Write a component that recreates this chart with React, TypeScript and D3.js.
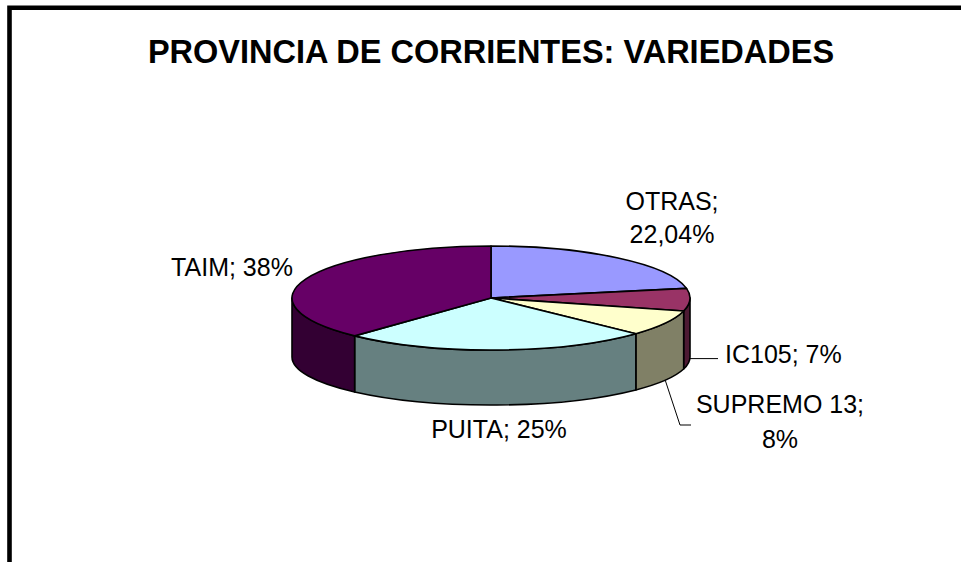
import React from "react";
import * as d3 from "d3";

const title = "PROVINCIA DE CORRIENTES: VARIEDADES";
const categories = ["OTRAS", "IC105", "SUPREMO 13", "PUITA", "TAIM"];
const values = [22.04, 7, 8, 25, 38];
const valueLabels = ["22,04%", "7%", "8%", "25%", "38%"];
const topColors = ["#9999FF", "#993366", "#FFFFCC", "#CCFFFF", "#660066"];

const W = 961;
const H = 562;
const cx = 491;
const cy = 298;
const rx = 199;
const ry = 52;
const cyb = 357;
const ryb = 48;
const FONT = "'Liberation Sans', Arial, Helvetica, sans-serif";

function sideColor(c: string) {
  const r = d3.rgb(c);
  return d3.rgb(r.r * 0.5, r.g * 0.5, r.b * 0.5).formatHex();
}

export default function App() {
  const arcs = d3.pie<number>().sort(null).value((d) => d)(values);
  const topPt = (a: number) => [cx + rx * Math.sin(a), cy - ry * Math.cos(a)];
  const botPt = (a: number) => [cx + rx * Math.sin(a), cyb - ryb * Math.cos(a)];
  const f = (n: number) => n.toFixed(2);

  const topPaths = arcs.map((a) => {
    const p0 = topPt(a.startAngle);
    const p1 = topPt(a.endAngle);
    const large = a.endAngle - a.startAngle > Math.PI ? 1 : 0;
    return `M${cx},${cy}L${f(p0[0])},${f(p0[1])}A${rx},${ry} 0 ${large} 1 ${f(p1[0])},${f(p1[1])}Z`;
  });

  const sidePaths = arcs.map((a) => {
    const s0 = Math.max(a.startAngle, Math.PI / 2);
    const s1 = Math.min(a.endAngle, (3 * Math.PI) / 2);
    if (s0 >= s1) return null;
    const t0 = topPt(s0), t1 = topPt(s1), b0 = botPt(s0), b1 = botPt(s1);
    return `M${f(t0[0])},${f(t0[1])}A${rx},${ry} 0 0 1 ${f(t1[0])},${f(t1[1])}L${f(b1[0])},${f(b1[1])}A${rx},${ryb} 0 0 0 ${f(b0[0])},${f(b0[1])}Z`;
  });

  const mid = (i: number) => (arcs[i].startAngle + arcs[i].endAngle) / 2;
  const icAnchor = botPt(mid(1));
  const supAnchor = botPt(mid(2));

  const labelStyle = { fontFamily: FONT, fontSize: 25, fill: "#000" } as const;

  return (
    <svg width={W} height={H} style={{ position: "absolute", left: 0, top: 0, background: "#fff" }}>
      <rect x={0} y={0} width={W} height={H} fill="#fff" />
      <path d={`M9.5,${H}V7.7H${W}`} fill="none" stroke="#000" strokeWidth={4.6} />
      <text x={491} y={63} textAnchor="middle" style={{ fontFamily: FONT, fontSize: 32.5, fontWeight: "bold" }}>
        {title}
      </text>
      <g stroke="#000" strokeWidth={1.6} strokeLinejoin="round">
        {sidePaths.map((d, i) => (d ? <path key={"s" + i} d={d} fill={sideColor(topColors[i])} /> : null))}
        {topPaths.map((d, i) => (
          <path key={"t" + i} d={d} fill={topColors[i]} />
        ))}
      </g>
      <g stroke="#000" strokeWidth={1} fill="none">
        <path d={`M${f(icAnchor[0])},${f(icAnchor[1])}H718`} />
        <path d={`M${f(supAnchor[0])},${f(supAnchor[1])}L680,425H691`} />
      </g>
      <text x={672} y={210} textAnchor="middle" style={labelStyle}>{categories[0] + ";"}</text>
      <text x={672} y={243} textAnchor="middle" style={labelStyle}>{valueLabels[0]}</text>
      <text x={725} y={363} textAnchor="start" style={labelStyle}>{`${categories[1]}; ${valueLabels[1]}`}</text>
      <text x={780} y={413} textAnchor="middle" style={labelStyle}>{categories[2] + ";"}</text>
      <text x={780} y={448} textAnchor="middle" style={labelStyle}>{valueLabels[2]}</text>
      <text x={499} y={438} textAnchor="middle" style={labelStyle}>{`${categories[3]}; ${valueLabels[3]}`}</text>
      <text x={232} y={276} textAnchor="middle" style={labelStyle}>{`${categories[4]}; ${valueLabels[4]}`}</text>
    </svg>
  );
}
